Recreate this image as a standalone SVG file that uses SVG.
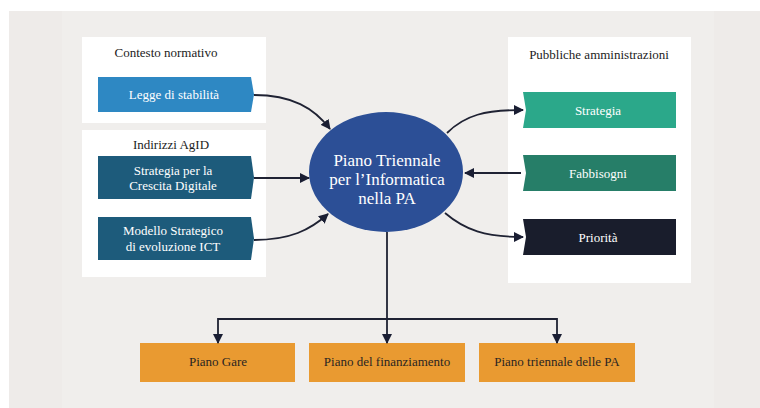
<svg xmlns="http://www.w3.org/2000/svg" width="760" height="408" viewBox="0 0 760 408">
  <style>
    .title { font-family: "Liberation Serif", "Times New Roman", serif; font-size: 13px; fill: #1c1c1c; text-anchor: middle; }
    .lbl { font-family: "Liberation Serif", "Times New Roman", serif; font-size: 13px; fill: #ffffff; text-anchor: middle; }
    .lbl-dark { font-family: "Liberation Serif", "Times New Roman", serif; font-size: 13px; fill: #2a2522; text-anchor: middle; }
    .hub { font-family: "Liberation Serif", "Times New Roman", serif; font-size: 17px; fill: #ffffff; text-anchor: middle; }
    .panel { fill: #ffffff; }
    .link { fill: none; stroke: #1f2233; stroke-width: 1.8; }
    .orange { fill: #e99a31; }
  </style>
  <defs>
    <marker id="arrow" viewBox="0 0 10 10" refX="9" refY="5" markerWidth="10" markerHeight="10" markerUnits="userSpaceOnUse" orient="auto">
      <path d="M0,0 L10,5 L0,10 z" fill="#1a1e33"/>
    </marker>
  </defs>

  <!-- page background -->
  <rect x="0" y="0" width="760" height="408" fill="#ffffff"/>
  <rect x="9" y="11" width="751" height="397" fill="#eeebe9"/>
  <rect x="62" y="11" width="652" height="397" fill="#f0eeec"/>

  <!-- left side panels -->
  <g id="contesto-normativo">
    <rect class="panel" x="82" y="37" width="184" height="86"/>
    <text class="title" x="166" y="57">Contesto normativo</text>
  </g>
  <g id="legge-stabilita">
    <polygon points="98,77 251,77 254,94.5 251,112 98,112" fill="#2e88c3"/>
    <text class="lbl" x="174" y="99">Legge di stabilità</text>
  </g>

  <g id="indirizzi-agid">
    <rect class="panel" x="82" y="130" width="184" height="147"/>
    <text class="title" x="171" y="149">Indirizzi AgID</text>
  </g>
  <g id="strategia-crescita">
    <polygon points="98,156 251,156 254,177.5 251,199 98,199" fill="#1d5b7b"/>
    <text class="lbl" x="173" y="175">Strategia per la</text>
    <text class="lbl" x="173" y="190">Crescita Digitale</text>
  </g>
  <g id="modello-strategico">
    <polygon points="98,217 251,217 254,238.5 251,260 98,260" fill="#1d5b7b"/>
    <text class="lbl" x="173" y="235">Modello Strategico</text>
    <text class="lbl" x="173" y="251">di evoluzione ICT</text>
  </g>

  <!-- right side panel -->
  <g id="pubbliche-amministrazioni">
    <rect class="panel" x="508" y="37" width="183" height="246"/>
    <text class="title" x="599" y="59">Pubbliche amministrazioni</text>
  </g>
  <g id="strategia">
    <polygon points="523,92 676,92 676,128 523,128 526,110" fill="#2ba88a"/>
    <text class="lbl" x="598" y="115">Strategia</text>
  </g>
  <g id="fabbisogni">
    <polygon points="523,155 676,155 676,191 523,191 526,173" fill="#267e68"/>
    <text class="lbl" x="598" y="178">Fabbisogni</text>
  </g>
  <g id="priorita">
    <polygon points="523,219 676,219 676,255 523,255 526,237" fill="#191d2c"/>
    <text class="lbl" x="598" y="242">Priorità</text>
  </g>

  <!-- central hub -->
  <g id="piano-triennale">
    <ellipse cx="386" cy="172" rx="77" ry="60" fill="#2c4f96"/>
    <text class="hub" x="387" y="166">Piano Triennale</text>
    <text class="hub" x="387" y="185">per l’Informatica</text>
    <text class="hub" x="387" y="204">nella PA</text>
  </g>

  <!-- bottom outputs -->
  <g id="piano-gare">
    <rect class="orange" x="140" y="343" width="155" height="39"/>
    <text class="lbl-dark" x="218" y="366">Piano Gare</text>
  </g>
  <g id="piano-finanziamento">
    <rect class="orange" x="309" y="343" width="156" height="39"/>
    <text class="lbl-dark" x="387" y="366">Piano del finanziamento</text>
  </g>
  <g id="piano-triennale-pa">
    <rect class="orange" x="479" y="343" width="156" height="39"/>
    <text class="lbl-dark" x="557" y="366">Piano triennale delle PA</text>
  </g>

  <!-- connectors -->
  <g id="connectors">
    <path class="link" d="M254,95 C292,95 314,108 330,129" marker-end="url(#arrow)"/>
    <path class="link" d="M254,178 L309,178" marker-end="url(#arrow)"/>
    <path class="link" d="M254,240 C290,240 310,230 328,214" marker-end="url(#arrow)"/>
    <path class="link" d="M447,133 C465,115 485,110 523,110" marker-end="url(#arrow)"/>
    <path class="link" d="M521,173 L465,173" marker-end="url(#arrow)"/>
    <path class="link" d="M445,213 C465,230 485,237 523,237" marker-end="url(#arrow)"/>
    <path class="link" d="M387,232 L387,319"/>
    <path class="link" d="M218,319 L557,319"/>
    <path class="link" d="M218,318 L218,343" marker-end="url(#arrow)"/>
    <path class="link" d="M387,318 L387,343" marker-end="url(#arrow)"/>
    <path class="link" d="M557,318 L557,343" marker-end="url(#arrow)"/>
  </g>
</svg>
